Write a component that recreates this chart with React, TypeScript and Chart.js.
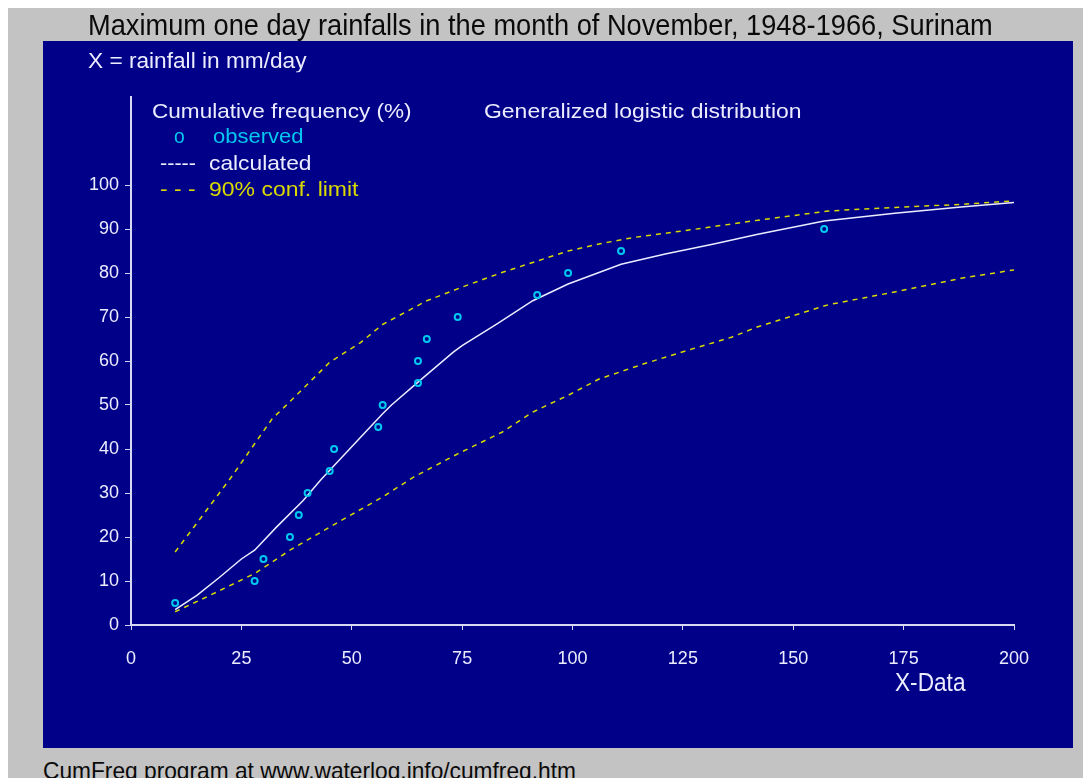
import React, { useEffect, useLayoutEffect, useRef, useState } from 'react';
import { Chart, registerables } from 'chart.js';

Chart.register(...registerables);

// ---- data ----
const observedX = [10, 28, 30, 36, 38, 40, 45, 46, 56, 57, 65, 65, 67, 74, 92, 99, 111, 157];
const observedY = [5, 10, 15, 20, 25, 30, 35, 40, 45, 50, 55, 60, 65, 70, 75, 80, 85, 90];

const calcX = [10, 15, 20, 25, 28, 33, 39, 43, 51, 57, 59, 65, 73, 75, 83, 91, 99, 106, 111, 121, 132, 142, 157, 173, 188, 200];
const calcY = [3.5, 6.8, 10.8, 15, 17, 22.3, 28.3, 33, 41.6, 48, 50, 55.2, 62, 63.5, 68.5, 73.7, 77.5, 80.1, 82, 84.3, 86.6, 88.8, 91.8, 93.6, 95, 96];

const upperX = [10, 16, 23, 28, 32, 35, 45, 52, 57, 67, 75, 84, 91, 99, 106, 114, 126, 142, 158, 173, 188, 200];
const upperY = [16.6, 24.6, 34, 41.2, 46.9, 49.8, 59.7, 64.2, 68.3, 73.7, 76.8, 80.1, 82.4, 85, 86.6, 88.1, 89.7, 92, 94.1, 94.9, 95.6, 96.4];

const lowerX = [10, 18, 28, 36, 47, 57, 64, 74, 84, 91, 99, 106, 116, 126, 136, 142, 158, 173, 188, 200];
const lowerY = [3.0, 6.8, 11.7, 17, 23.4, 29.1, 33.6, 38.9, 43.8, 48.4, 52.2, 55.9, 59.3, 62.4, 65.4, 67.8, 72.8, 75.7, 78.8, 80.7];

const xMin = 0;
const xMax = 200;
const xStep = 25;
const yMin = 0;
const yMax = 120;
const yStep = 10;
const yLastLabel = 100;

const TITLE = 'Maximum one day rainfalls in the month of November, 1948-1966, Surinam';
const FOOTER = 'CumFreq program at www.waterlog.info/cumfreq.htm';

const NAVY = '#000088';
const GRAY = '#c3c3c3';
const CYAN = '#00c8f0';
const YELLOW = '#dada00';
const WHITE = '#ececff';
const AXIS = '#d8d8f4';
const FONT = "'Liberation Sans', Arial, sans-serif";

const pts = (xs: number[], ys: number[]) => xs.map((x, i) => ({ x, y: ys[i] }));

type FitProps = {
  text: string;
  left: number;
  baseline: number;
  width: number;
  size: number;
  color: string;
  sy?: number;
};

function FitText({ text, left, baseline, width, size, color, sy = 1 }: FitProps) {
  const ref = useRef<HTMLSpanElement>(null);
  const [sx, setSx] = useState(1);
  useLayoutEffect(() => {
    const w = ref.current ? ref.current.offsetWidth : 0;
    if (w) setSx(width / w);
  }, [text, width, size]);
  const top = baseline - 0.8465 * size * sy;
  return (
    <span
      ref={ref}
      style={{
        position: 'absolute',
        left: left - 8,
        top: top - 8,
        fontSize: size,
        lineHeight: 1,
        fontFamily: FONT,
        whiteSpace: 'nowrap',
        color,
        transform: `scale(${sx}, ${sy})`,
        transformOrigin: 'left top',
        zIndex: 2,
      }}
    >
      {text}
    </span>
  );
}

function RainChart() {
  const canvasRef = useRef<HTMLCanvasElement>(null);
  useEffect(() => {
    if (!canvasRef.current) return;
    const chart = new Chart(canvasRef.current, {
      type: 'scatter',
      data: {
        datasets: [
          {
            label: 'observed',
            data: pts(observedX, observedY),
            showLine: false,
            pointRadius: 3,
            pointBorderWidth: 2,
            borderColor: CYAN,
            backgroundColor: 'rgba(0,0,0,0)',
            pointBackgroundColor: 'rgba(0,0,0,0)',
          },
          {
            label: 'calculated',
            data: pts(calcX, calcY),
            showLine: true,
            borderColor: WHITE,
            borderWidth: 1.5,
            pointRadius: 0,
            tension: 0,
          },
          {
            label: '90% conf. limit upper',
            data: pts(upperX, upperY),
            showLine: true,
            borderColor: YELLOW,
            borderWidth: 1.5,
            borderDash: [5, 5],
            pointRadius: 0,
            tension: 0,
          },
          {
            label: '90% conf. limit lower',
            data: pts(lowerX, lowerY),
            showLine: true,
            borderColor: YELLOW,
            borderWidth: 1.5,
            borderDash: [5, 5],
            pointRadius: 0,
            tension: 0,
          },
        ],
      },
      options: {
        animation: false,
        responsive: false,
        maintainAspectRatio: false,
        layout: { padding: { left: 0, top: 56, right: 59, bottom: 0 } },
        plugins: {
          legend: { display: false },
          tooltip: { enabled: false },
          title: { display: false },
        },
        scales: {
          x: {
            type: 'linear',
            min: xMin,
            max: xMax,
            ticks: {
              stepSize: xStep,
              color: WHITE,
              font: { family: FONT, size: 18 },
              padding: 18,
              maxRotation: 0,
              autoSkip: false,
            },
            grid: {
              drawOnChartArea: false,
              drawTicks: true,
              tickLength: 5,
              color: AXIS,
              lineWidth: 1,
            },
            border: { display: true, color: AXIS, width: 2 },
            afterFit: (s: any) => {
              s.height = 123;
            },
          },
          y: {
            type: 'linear',
            min: yMin,
            max: yMax,
            ticks: {
              stepSize: yStep,
              color: WHITE,
              font: { family: FONT, size: 18 },
              padding: 6,
              autoSkip: false,
            },
            afterBuildTicks: (s: any) => {
              s.ticks = s.ticks.filter((t: any) => t.value <= yLastLabel);
            },
            grid: {
              drawOnChartArea: false,
              drawTicks: true,
              tickLength: 6,
              color: AXIS,
              lineWidth: 1,
            },
            border: { display: true, color: AXIS, width: 2 },
            afterFit: (s: any) => {
              s.width = 88;
            },
          },
        },
      },
    });
    return () => chart.destroy();
  }, []);
  return <canvas ref={canvasRef} width={1030} height={707} style={{ display: 'block', width: 1030, height: 707 }} />;
}

export default function App() {
  return (
    <div
      style={{
        position: 'relative',
        width: 1083,
        height: 770,
        background: GRAY,
        overflow: 'hidden',
        fontFamily: FONT,
      }}
    >
      <div
        style={{
          position: 'absolute',
          left: 43 - 8,
          top: 41 - 8,
          width: 1030,
          height: 707,
          background: NAVY,
          zIndex: 1,
        }}
      >
        <RainChart />
      </div>
      <FitText text={TITLE} left={88} baseline={36} width={905} size={28} sy={1.05} color="#0a0a0a" />
      <FitText text="X = rainfall in mm/day" left={88} baseline={68} width={219} size={21} sy={1.05} color={WHITE} />
      <FitText text="Cumulative frequency (%)" left={152} baseline={118} width={260} size={21} color={WHITE} />
      <FitText text="Generalized logistic distribution" left={484} baseline={118} width={318} size={21} color={WHITE} />
      <FitText text="o" left={174} baseline={143} width={11} size={21} color={CYAN} />
      <FitText text="observed" left={213} baseline={143} width={90} size={21} color={CYAN} />
      <FitText text="-----" left={160} baseline={170} width={36} size={21} color={WHITE} />
      <FitText text="calculated" left={209} baseline={170} width={103} size={21} color={WHITE} />
      <FitText text="- - -" left={160} baseline={196} width={36} size={21} color={YELLOW} />
      <FitText text="90% conf. limit" left={209} baseline={196} width={150} size={21} color={YELLOW} />
      <FitText text="X-Data" left={895} baseline={691} width={70} size={22} sy={1.15} color={WHITE} />
      <FitText text={FOOTER} left={43} baseline={779} width={533} size={24} color="#0a0a0a" />
    </div>
  );
}
